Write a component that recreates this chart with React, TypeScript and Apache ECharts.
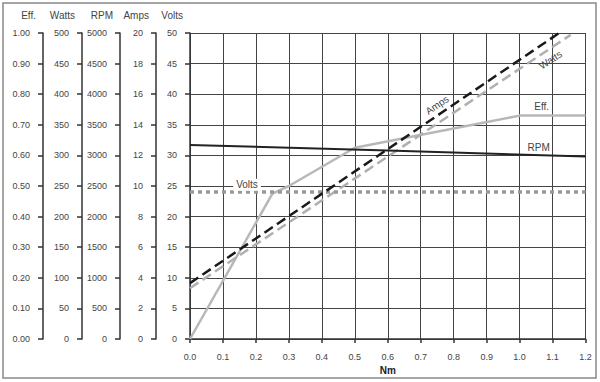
import React, { useEffect, useRef } from "react";
import * as echarts from "echarts";

// Torque (Nm) on the x axis
const effNm = [0, 0.25, 0.3, 0.5, 1.0, 1.2];
const effVals = [0, 0.475, 0.5, 0.625, 0.73, 0.73];

const rpmNm = [0, 0.6, 1.2];
const rpmVals = [3170, 3080, 2980];

const voltsNm = [0, 1.2];
const voltsVals = [24, 24];

const ampsNm = [0, 1.12];
const ampsVals = [3.65, 20];

const wattsNm = [0, 1.155];
const wattsVals = [83, 497];

const axisNames = ["Volts", "Amps", "RPM", "Watts", "Eff."];

const pair = (xs: number[], ys: number[]) => xs.map((x, i) => [x, ys[i]]);

const FONT = "Liberation Sans, Arial, sans-serif";
const TXT = "#444";

function yAx(name: string, max: number, interval: number, offset: number, split: boolean, fmt: (v: number) => string) {
  return {
    type: "value",
    position: "left",
    offset,
    min: 0,
    max,
    interval,
    name,
    nameLocation: "end",
    nameGap: 13,
    nameTextStyle: { color: TXT, fontSize: 10, fontFamily: FONT, align: "right", padding: [0, 7, 0, 0] },
    axisLine: { show: true, lineStyle: { color: "#333", width: 1.5 } },
    axisTick: { show: true, length: 5, lineStyle: { color: "#333", width: 1.5 } },
    axisLabel: { color: TXT, fontSize: 9, fontFamily: FONT, margin: 13, formatter: fmt },
    splitLine: { show: split, lineStyle: { color: "#444", width: 1 } },
  };
}

function labelPoint(coord: number[], text: string, rotate = 0, bg?: string) {
  return {
    coord,
    symbol: "circle",
    symbolSize: 1,
    itemStyle: { color: "rgba(0,0,0,0)" },
    label: {
      show: true,
      position: "inside",
      formatter: text,
      rotate,
      color: TXT,
      fontSize: 10,
      fontFamily: FONT,
      backgroundColor: bg,
      padding: bg ? [1, 3] : 0,
    },
  };
}

const plain = (v: number) => String(v);

export default function App() {
  const ref = useRef<HTMLDivElement>(null);
  useEffect(() => {
    document.body.style.margin = "0";
    const chart = echarts.init(ref.current!, undefined, { renderer: "svg" });
    chart.setOption({
      animation: false,
      backgroundColor: "#fff",
      graphic: [
        {
          type: "rect",
          silent: true,
          shape: { x: 3, y: 3, width: 593, height: 375 },
          style: { fill: "none", stroke: "#888", lineWidth: 1.5 },
        },
      ],
      grid: { left: 190, right: 14.5, top: 33, bottom: 43 },
      xAxis: {
        type: "value",
        min: 0,
        max: 1.2,
        interval: 0.1,
        name: "Nm",
        nameLocation: "middle",
        nameGap: 26,
        nameTextStyle: { color: "#222", fontSize: 10, fontWeight: "bold", fontFamily: FONT },
        axisLine: { show: true, lineStyle: { color: "#333", width: 1.5 } },
        axisTick: { show: true, length: 4, lineStyle: { color: "#333", width: 1.5 } },
        axisLabel: { color: TXT, fontSize: 9, fontFamily: FONT, margin: 13, formatter: (v: number) => v.toFixed(1) },
        splitLine: { show: true, lineStyle: { color: "#444", width: 1 } },
      },
      yAxis: [
        yAx(axisNames[0], 50, 5, 0, true, plain),
        yAx(axisNames[1], 20, 2, 34, false, plain),
        yAx(axisNames[2], 5000, 500, 70, false, plain),
        yAx(axisNames[3], 500, 50, 108, false, plain),
        yAx(axisNames[4], 1, 0.1, 147, false, (v: number) => v.toFixed(2)),
      ],
      series: [
        {
          name: "Eff.",
          type: "line",
          yAxisIndex: 4,
          data: pair(effNm, effVals),
          showSymbol: false,
          lineStyle: { color: "#b8b8b8", width: 2.5 },
          markPoint: { silent: true, data: [labelPoint([1.067, 0.761], "Eff.")] },
        },
        {
          name: "Watts",
          type: "line",
          yAxisIndex: 3,
          data: pair(wattsNm, wattsVals),
          showSymbol: false,
          lineStyle: { color: "#b0b0b0", width: 2.5, type: [10, 5] },
          markPoint: { silent: true, data: [labelPoint([1.094, 456], "Watts", 34)] },
        },
        {
          name: "Volts",
          type: "line",
          yAxisIndex: 0,
          data: pair(voltsNm, voltsVals),
          showSymbol: false,
          lineStyle: { color: "#999", width: 3.5, type: [4, 4] },
          markPoint: { silent: true, data: [labelPoint([0.173, 25.2], "Volts", 0, "#fff")] },
        },
        {
          name: "RPM",
          type: "line",
          yAxisIndex: 2,
          data: pair(rpmNm, rpmVals),
          showSymbol: false,
          lineStyle: { color: "#222", width: 2 },
          markPoint: { silent: true, data: [labelPoint([1.058, 3137], "RPM")] },
        },
        {
          name: "Amps",
          type: "line",
          yAxisIndex: 1,
          data: pair(ampsNm, ampsVals),
          showSymbol: false,
          lineStyle: { color: "#1a1a1a", width: 2.5, type: [10, 5] },
          markPoint: { silent: true, data: [labelPoint([0.75, 15.3], "Amps", 34)] },
        },
      ],
    });
    return () => chart.dispose();
  }, []);
  return <div ref={ref} style={{ position: "fixed", left: 0, top: 0, width: 600, height: 382, background: "#fff" }} />;
}
